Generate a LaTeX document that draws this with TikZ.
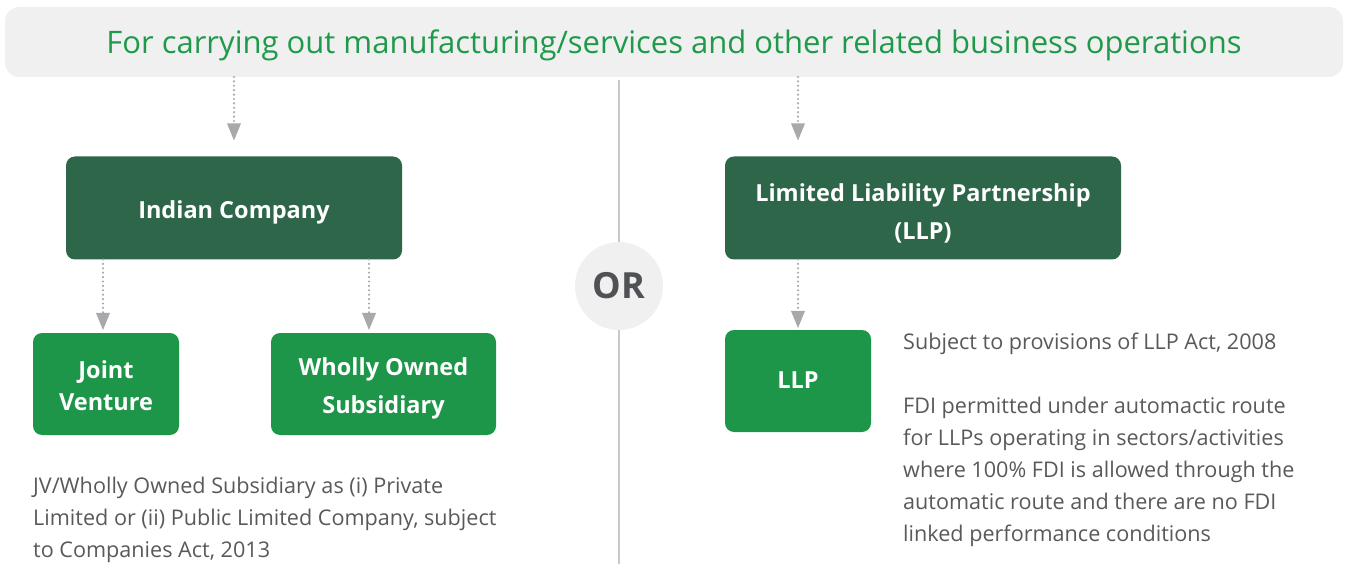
\documentclass[tikz,border=0pt]{standalone}
\usepackage{fontspec}
\setmainfont{Open Sans}
\usetikzlibrary{arrows.meta,calc}
\definecolor{deepgreen}{HTML}{2D6649}
\definecolor{leafgreen}{HTML}{1E9649}
\definecolor{headgreen}{HTML}{1E9A4A}
\definecolor{bandgray}{HTML}{F0F0F0}
\definecolor{textgray}{HTML}{58595B}
\definecolor{flowgray}{HTML}{A7A9AC}
\definecolor{rulegray}{HTML}{C8C8C8}
\definecolor{orgray}{HTML}{505155}
% struts that fix the height of a first line and the depth of a last line
\newcommand{\topstrut}[1]{\rule{0pt}{#1}}
\newcommand{\botstrut}{\rule[-6pt]{0pt}{6pt}}
\tikzset{
  band/.style={fill=bandgray, draw=none, rounded corners=14pt, outer sep=0pt,
    minimum width=1338pt, minimum height=70pt, text=headgreen,
    text height=26pt, text depth=3.9pt,
    font=\fontsize{31}{36}\selectfont},
  bigbox/.style={fill=deepgreen, draw=none, rounded corners=9pt, outer sep=0pt,
    minimum height=103pt, text=white, align=center,
    font=\bfseries\fontsize{23.5}{38.5}\selectfont},
  smallbox/.style={fill=leafgreen, draw=none, rounded corners=9pt, outer sep=0pt,
    minimum height=102pt, text=white, align=center,
    font=\bfseries\fontsize{23.5}{32}\selectfont},
  note/.style={text=textgray, align=left, inner sep=0pt, anchor=north west,
    font=\fontsize{21.6}{32}\selectfont},
  flow/.style={draw=flowgray, line width=2.4pt, line cap=round,
    dash pattern=on 0pt off 4.4pt,
    -{Triangle[width=14pt,length=17pt,line width=0pt]}},
  divider/.style={draw=rulegray, line width=1.4pt}
}
\begin{document}
\begin{tikzpicture}[x=1pt,y=-1pt]
\useasboundingbox (0,0) rectangle (1345,564);

% heading band
\node[band] (title) at (674,42)
  {For carrying out manufacturing/services and other related business operations};

% central divider with the OR disc
\coordinate (divbot) at (619,564);
\node[circle, fill=bandgray, minimum size=88pt, inner sep=0pt, outer sep=0pt,
  text=orgray, font=\bfseries\fontsize{36}{40}\selectfont] (orc) at (619,286) {OR};
\draw[divider] ($(title.south -| orc.center)+(0,3)$) -- (orc.north);
\draw[divider] (orc.south) -- (divbot);

% company branch
\node[bigbox, minimum width=336pt, text height=22pt, text depth=1.2pt]
  (ic) at (234,208) {Indian Company};
\node[smallbox, minimum width=146pt] (jv) at (106,384)
  {\topstrut{26.8pt}Joint\\Venture\botstrut};
\node[smallbox, minimum width=225pt, font=\bfseries\fontsize{23.5}{38}\selectfont]
  (wos) at (383.5,384) {\topstrut{27.8pt}Wholly Owned\\Subsidiary\botstrut};
\coordinate (icl) at ($(ic.south west)+(37,0)$);
\coordinate (icr) at ($(ic.south east)+(-33,0)$);

\draw[flow, shorten >=16pt] (title.south -| ic.north) -- (ic.north);
\draw[flow, shorten >=3pt] (icl) -- (jv.north -| icl);
\draw[flow, shorten >=3pt] (icr) -- (wos.north -| icr);

\node[note] (icnote) at (33,477)
  {JV/Wholly Owned Subsidiary as (i) Private\\
   Limited or (ii) Public Limited Company, subject\\
   to Companies Act, 2013};

% LLP branch
\node[bigbox, minimum width=396pt] (llpco) at (923,208)
  {\topstrut{30.8pt}Limited Liability Partnership\\(LLP)\botstrut};
\node[smallbox, minimum width=146pt, text height=16pt, text depth=1.2pt]
  (llp) at (798,381) {LLP};

\draw[flow, shorten >=16pt] (title.south -| llp.north) -- (llpco.north -| llp.north);
\draw[flow, shorten >=2pt] (llpco.south -| llp.north) -- (llp.north);

\node[note] (llpnote) at (903,333)
  {Subject to provisions of LLP Act, 2008\\[32pt]
   FDI permitted under automactic route\\
   for LLPs operating in sectors/activities\\
   where 100\% FDI is allowed through the\\
   automatic route and there are no FDI\\
   linked performance conditions};
\end{tikzpicture}
\end{document}
